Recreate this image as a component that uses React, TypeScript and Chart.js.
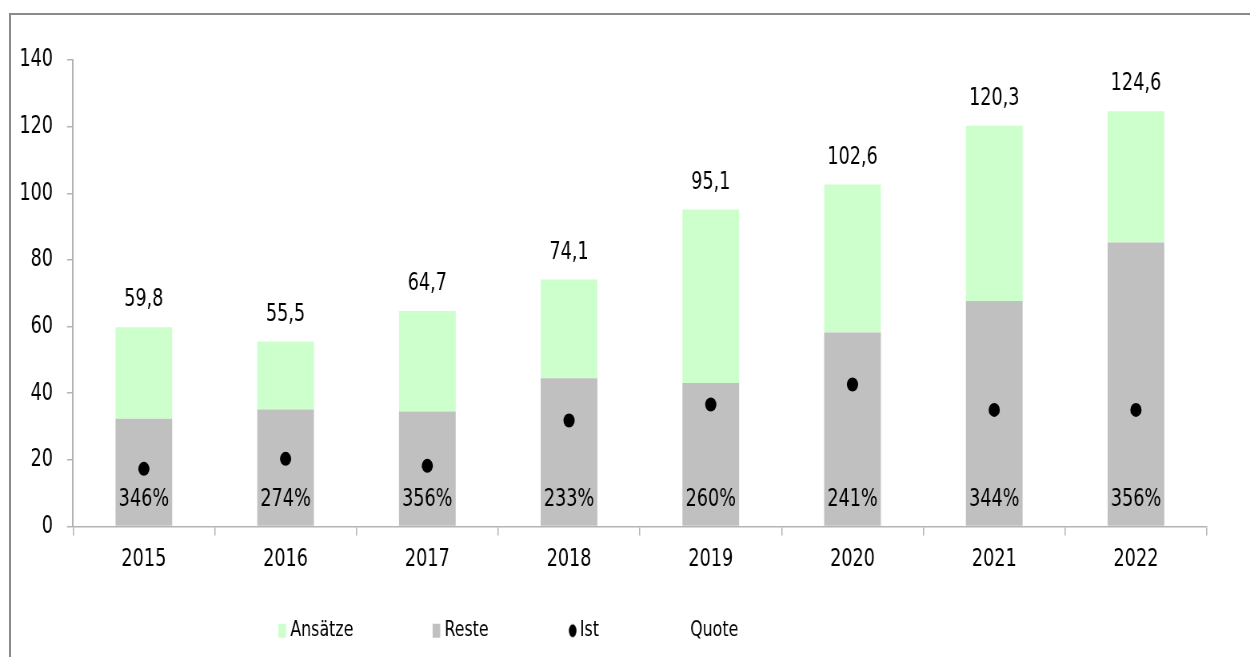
import React, { useEffect, useRef } from 'react';
import { Chart, registerables } from 'chart.js';

Chart.register(...registerables);

// ---- data ----
const categories = ['2015', '2016', '2017', '2018', '2019', '2020', '2021', '2022'];
const resteValues = [32.3, 35.1, 34.5, 44.5, 43.1, 58.2, 67.7, 85.2];
const ansaetzeValues = [27.5, 20.4, 30.2, 29.6, 52.0, 44.4, 52.6, 39.4];
const totalValues = [59.8, 55.5, 64.7, 74.1, 95.1, 102.6, 120.3, 124.6];
const istValues = [17.3, 20.3, 18.2, 31.8, 36.6, 42.6, 35.0, 35.0];
const quoteValues = [346, 274, 356, 233, 260, 241, 344, 356];
const legendNames = ['Ansätze', 'Reste', 'Ist', 'Quote'];

// ---- layout / style ----
const WIN_W = 1250;
const WIN_H = 657;
const CANVAS_W = 1563; // drawn wider, then squeezed horizontally
const SQUEEZE = WIN_W / CANVAS_W;
const FONT = "'DejaVu Sans Condensed', 'DejaVu Sans', sans-serif";
const GREEN = '#CCFFCC';
const GREY = '#C0C0C0';
const AXIS = '#b4b4b4';
const BOX_W = 93;
const LEG_FS = 22;
const LEG_PAD = 10;
const LEGEND_START = 259;
const MAIN_FS = 24.5;

function makeMarker(kind: string, color: string): HTMLCanvasElement {
  const w = Math.round(2 * (BOX_W / 2 + LEG_FS / 2));
  const h = 16;
  const c = document.createElement('canvas');
  c.width = w;
  c.height = h;
  const ctx = c.getContext('2d')!;
  ctx.fillStyle = color;
  if (kind === 'rect') {
    ctx.fillRect(w - 15, 1, 9.5, 14);
  } else if (kind === 'circle') {
    ctx.beginPath();
    ctx.ellipse(w - 9, 8, 4.8, 6.5, 0, 0, Math.PI * 2);
    ctx.fill();
  }
  return c;
}

const fmt = (v: number) => v.toFixed(1).replace('.', ',');

const labelPlugin = {
  id: 'valueLabels',
  afterDatasetsDraw(chart: any) {
    const ctx = chart.ctx;
    const yScale = chart.scales.y;
    ctx.save();
    ctx.fillStyle = '#000';
    ctx.font = `${MAIN_FS}px ${FONT}`;
    ctx.textAlign = 'center';
    ctx.textBaseline = 'alphabetic';
    const topMeta = chart.getDatasetMeta(1);
    topMeta.data.forEach((bar: any, i: number) => {
      ctx.fillText(fmt(totalValues[i]), bar.x, bar.y - 21);
    });
    const quoteDs = chart.data.datasets[3];
    const baseY = yScale.getPixelForValue(0) - 20.5;
    chart.getDatasetMeta(0).data.forEach((bar: any, i: number) => {
      ctx.fillText(`${quoteDs.data[i]}%`, bar.x, baseY);
    });
    ctx.restore();
  },
};

const legendShift = {
  id: 'legendShift',
  afterLayout(chart: any) {
    const lg = chart.legend;
    if (!lg || !lg.lineWidths) return;
    const pad = lg.options.labels.padding;
    const cur = (lg.left + pad + lg.right - lg.lineWidths[0]) / 2;
    const d = LEGEND_START - cur;
    lg.left += d;
    lg.right += d;
  },
};

export default function App() {
  const ref = useRef<HTMLCanvasElement | null>(null);

  useEffect(() => {
    if (!ref.current) return;
    const markers = [
      makeMarker('rect', GREEN),
      makeMarker('rect', GREY),
      makeMarker('circle', '#000'),
      makeMarker('none', 'rgba(0,0,0,0)'),
    ];
    const chart = new Chart(ref.current, {
      type: 'bar',
      data: {
        labels: categories,
        datasets: [
          {
            type: 'bar',
            label: 'Reste',
            data: resteValues,
            backgroundColor: GREY,
            borderWidth: 0,
            stack: 'bars',
            order: 2,
          },
          {
            type: 'bar',
            label: 'Ansätze',
            data: ansaetzeValues,
            backgroundColor: GREEN,
            borderWidth: 0,
            stack: 'bars',
            order: 2,
          },
          {
            type: 'line',
            label: 'Ist',
            data: istValues,
            showLine: false,
            pointRadius: 7,
            pointHoverRadius: 7,
            pointBackgroundColor: '#000',
            pointBorderWidth: 0,
            borderColor: '#000',
            stack: 'ist',
            order: 0,
          },
          {
            type: 'line',
            label: 'Quote',
            data: quoteValues,
            showLine: false,
            pointRadius: 0,
            yAxisID: 'yq',
            stack: 'quote',
            order: 1,
          },
        ] as any,
      },
      options: {
        animation: false,
        responsive: true,
        maintainAspectRatio: false,
        layout: { padding: { left: 0, right: 54, top: 60, bottom: 5.25 } },
        plugins: {
          tooltip: { enabled: false },
          legend: {
            position: 'bottom',
            labels: {
              usePointStyle: true,
              pointStyleWidth: BOX_W,
              padding: LEG_PAD,
              color: '#000',
              font: { family: FONT, size: LEG_FS },
              generateLabels: () =>
                legendNames.map((name, i) => ({
                  text: name,
                  pointStyle: markers[i],
                  fillStyle: 'rgba(0,0,0,0)',
                  strokeStyle: 'rgba(0,0,0,0)',
                  lineWidth: 0,
                  hidden: false,
                  datasetIndex: [1, 0, 2, 3][i],
                  fontColor: '#000',
                })),
            },
          },
        },
        scales: {
          x: {
            stacked: true,
            offset: true,
            afterFit: (s: any) => {
              s.height = 83.25;
            },
            grid: {
              offset: true,
              drawOnChartArea: false,
              drawTicks: true,
              tickLength: 9,
              color: AXIS,
              lineWidth: 1.5,
            },
            border: { display: true, color: AXIS, width: 1.5 },
            ticks: { color: '#000', padding: 9, font: { family: FONT, size: MAIN_FS } },
          },
          y: {
            stacked: true,
            min: 0,
            max: 140,
            afterFit: (s: any) => {
              s.width = 91.25;
            },
            grid: {
              drawOnChartArea: false,
              drawTicks: true,
              tickLength: 7.5,
              color: AXIS,
              lineWidth: 1.5,
            },
            border: { display: true, color: AXIS, width: 2 },
            ticks: {
              stepSize: 20,
              color: '#000',
              padding: 17.5,
              font: { family: FONT, size: MAIN_FS },
            },
          },
          yq: { display: false, min: 0, max: 1000 },
        },
        categoryPercentage: 1,
        barPercentage: 0.4,
      } as any,
      plugins: [labelPlugin, legendShift],
    });
    return () => chart.destroy();
  }, []);

  return (
    <div
      style={{
        position: 'fixed',
        left: 0,
        top: 0,
        width: WIN_W,
        height: WIN_H,
        overflow: 'hidden',
        background: '#fff',
      }}
    >
      <div
        style={{
          position: 'absolute',
          left: 9,
          top: 13,
          width: WIN_W + 20,
          height: WIN_H + 20,
          borderTop: '2px solid #8a8a8a',
          borderLeft: '2px solid #8a8a8a',
        }}
      />
      <div
        style={{
          position: 'absolute',
          left: 0,
          top: 0,
          width: CANVAS_W,
          height: WIN_H,
          transform: `scaleX(${SQUEEZE})`,
          transformOrigin: '0 0',
        }}
      >
        <canvas ref={ref} />
      </div>
    </div>
  );
}
